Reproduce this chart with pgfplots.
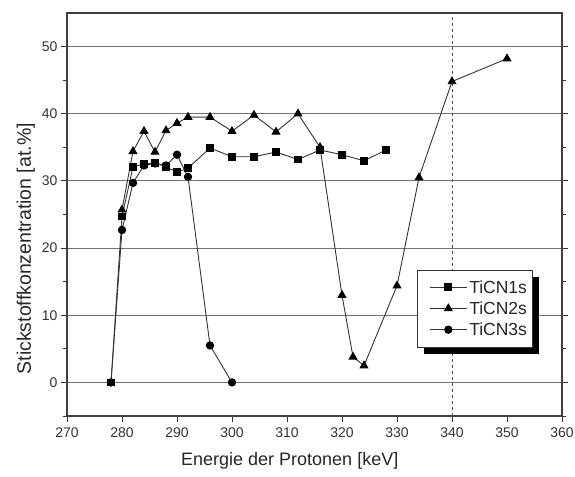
\documentclass[border=0pt]{standalone}
\usepackage{fontspec}
\setmainfont{Liberation Sans}
\usepackage{pgfplots}
\pgfplotsset{compat=1.18}
\usetikzlibrary{calc}
\begin{document}
\begin{tikzpicture}
\begin{axis}[
  scale only axis,
  width=495pt, height=403pt,
  xmin=270, xmax=360, ymin=-5, ymax=55,
  xtick={270,280,...,360},
  ytick={0,10,...,50},
  minor ytick={-5,5,15,25,35,45},
  xtick pos=bottom,
  ytick pos=both,
  tick align=outside,
  major tick length=6pt,
  minor tick length=4pt,
  every tick/.style={black!80, line width=1pt},
  axis line style={black!75, line width=1.3pt},
  ymajorgrids,
  major grid style={black!55, line width=1.1pt},
  /pgf/number format/assume math mode=true,
  tick label style={font=\fontsize{14}{16}\selectfont, text=black!80},
  xticklabel style={yshift=-2pt},
  xlabel={Energie der Protonen [keV]},
  ylabel={Stickstoffkonzentration [at.\%]},
  xlabel style={font=\fontsize{18}{20}\selectfont, text=black!85, at={(ticklabel cs:0.45)}, yshift=-8pt},
  ylabel style={font=\fontsize{19.5}{22}\selectfont, text=black!85, at={(ticklabel cs:0.415)}},
  legend style={at={(rel axis cs:0.707,0.362)}, anchor=north west, name=leg,
    draw=black!80, line width=0.8pt, fill=white,
    font=\fontsize{17.5}{20}\selectfont, text=black!85,
    inner xsep=3pt, inner ysep=8pt, row sep=3pt, column sep=0pt},
  legend cell align=left,
  legend image code/.code={\path (0pt,0pt) (46pt,0pt); \draw[mark repeat=2,mark phase=2] plot coordinates {(9pt,0.3pt) (27.5pt,0.3pt) (46pt,0.3pt)};},
]
\coordinate (bl) at (rel axis cs:0,0);
\coordinate (tr) at (rel axis cs:1,1);
\addplot[forget plot, black!70, dashed, line width=0.8pt] coordinates {(340,-5) (340,55)};
\addplot[black!80, line width=0.9pt, mark=square*, mark size=3.4pt, mark options={solid, fill=black, draw=black}] coordinates {
(278,0) (280,24.7) (282,32.1) (284,32.5) (286,32.7) (288,32.1) (290,31.3) (292,31.9) (296,34.9) (300,33.6) (304,33.6) (308,34.3) (312,33.2) (316,34.6) (320,33.9) (324,33.0) (328,34.6)};
\addlegendentry{TiCN1s}
\addplot[black!80, line width=0.9pt, mark=triangle*, mark size=4.4pt, mark options={solid, fill=black, draw=black}] coordinates {
(280,25.7) (282,34.4) (284,37.4) (286,34.3) (288,37.5) (290,38.6) (292,39.5) (296,39.5) (300,37.4) (304,39.8) (308,37.3) (312,40.0) (316,35.0) (320,13.0) (322,3.8) (324,2.5) (330,14.4) (334,30.5) (340,44.8) (350,48.2)};
\addlegendentry{TiCN2s}
\addplot[black!80, line width=0.9pt, mark=*, mark size=3.7pt, mark options={solid, fill=black, draw=black}] coordinates {
(278,0) (280,22.7) (282,29.7) (284,32.3) (286,32.6) (288,32.3) (290,33.9) (292,30.6) (296,5.5) (300,0)};
\addlegendentry{TiCN3s}
\end{axis}
\fill[black] ($(leg.north east)+(0.4pt,-7pt)$) rectangle ($(leg.south east)+(7pt,-7pt)$);
\fill[black] ($(leg.south west)+(7pt,-0.4pt)$) rectangle ($(leg.south east)+(7pt,-7pt)$);
\pgfresetboundingbox
\path ($(bl)+(-67pt,-60pt)$) rectangle ($(tr)+(13pt,13pt)$);
\end{tikzpicture}
\end{document}
